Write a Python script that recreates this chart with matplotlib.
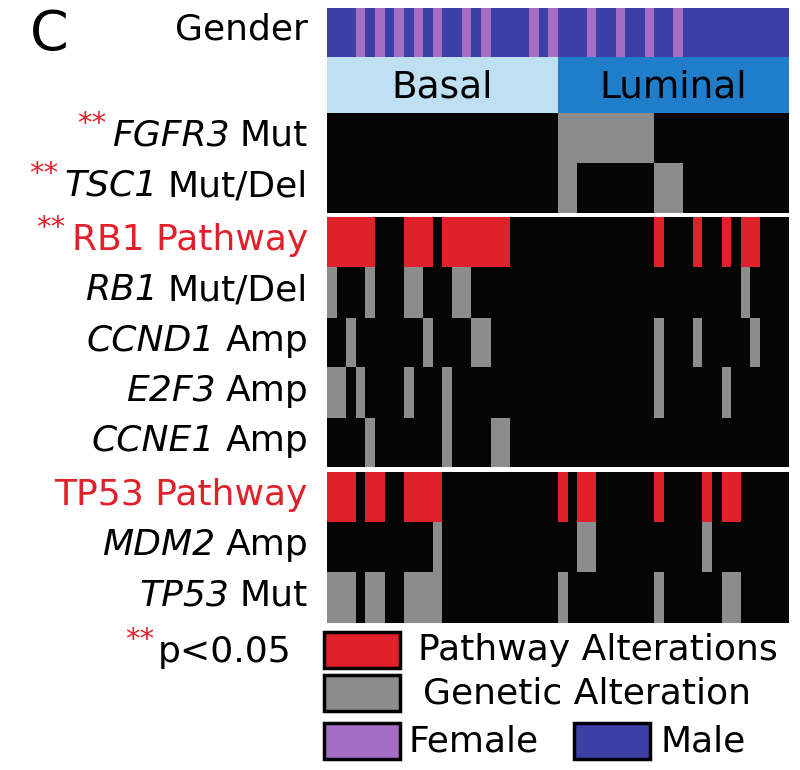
import numpy as np
import matplotlib
matplotlib.use("Agg")
import matplotlib.pyplot as plt
from matplotlib.colors import ListedColormap, BoundaryNorm
from matplotlib.patches import Rectangle

plt.rcParams['font.family'] = ['DejaVu Sans']

# ---- data (sample columns, 0-based) ----
n_samples = 48
n_basal = 24
subtypes = ['Basal', 'Luminal']
female_cols = [3, 5, 7, 9, 11, 14, 16, 21, 23, 27, 30, 33, 36]

fgfr3_mut = [24, 25, 26, 27, 28, 29, 30, 31, 32, 33]
tsc1_mut_del = [24, 25, 34, 35, 36]
rb1_pathway = [0, 1, 2, 3, 4, 8, 9, 10, 12, 13, 14, 15, 16, 17, 18, 34, 38, 41, 43, 44]
rb1_mut_del = [0, 4, 8, 9, 13, 14, 43]
ccnd1_amp = [2, 10, 15, 16, 34, 38, 44]
e2f3_amp = [0, 1, 3, 8, 12, 34, 41]
ccne1_amp = [4, 12, 17, 18]
tp53_pathway = [0, 1, 2, 4, 5, 8, 9, 10, 11, 24, 26, 27, 34, 39, 41, 42]
mdm2_amp = [11, 26, 27, 39]
tp53_mut = [0, 1, 2, 4, 5, 8, 9, 10, 11, 24, 34, 41, 42]

# (gene in italics, rest, pathway row?, p<0.05?, altered samples)
rows = [
    ('FGFR3', 'Mut', False, True, fgfr3_mut),
    ('TSC1', 'Mut/Del', False, True, tsc1_mut_del),
    ('RB1 Pathway', '', True, True, rb1_pathway),
    ('RB1', 'Mut/Del', False, False, rb1_mut_del),
    ('CCND1', 'Amp', False, False, ccnd1_amp),
    ('E2F3', 'Amp', False, False, e2f3_amp),
    ('CCNE1', 'Amp', False, False, ccne1_amp),
    ('TP53 Pathway', '', True, False, tp53_pathway),
    ('MDM2', 'Amp', False, False, mdm2_amp),
    ('TP53', 'Mut', False, False, tp53_mut),
]

# ---- layout (pixels from top) ----
W, H = 800, 770
gender_band = (8, 57)
subtype_band = (57, 113)
row_bands = [(113, 163), (163, 213), (217, 267), (267, 318), (318, 367),
             (367, 418), (418, 467), (472, 522), (522, 572), (572, 623)]

BLACK = '#050505'
GRAY = '#8c8c8c'
RED = '#e0202a'
FEMALE = '#a56dc4'
MALE = '#3b3fa6'
BASAL = '#bfdff2'
LUMINAL = '#1f7dc9'
cmap = ListedColormap([BLACK, GRAY, RED, FEMALE, MALE, BASAL, LUMINAL])
norm = BoundaryNorm(np.arange(-0.5, 7.5, 1), cmap.N)

fig = plt.figure(figsize=(W / 100, H / 100), dpi=100)
ax = fig.add_axes([327 / W, 1 - 623 / H, 462 / W, 615 / H])


def draw_band(codes, band):
    top, bottom = band
    ax.imshow(np.asarray(codes)[None, :], cmap=cmap, norm=norm,
              extent=(0, n_samples, bottom, top), aspect='auto',
              interpolation='nearest')


gender = np.full(n_samples, 4)
gender[female_cols] = 3
draw_band(gender, gender_band)

subtype = np.where(np.arange(n_samples) < n_basal, 5, 6)
draw_band(subtype, subtype_band)
sub_y = (subtype_band[0] + subtype_band[1]) / 2 + 3
ax.text(n_basal / 2, sub_y, subtypes[0], ha='center', va='center', fontsize=27)
ax.text((n_basal + n_samples) / 2, sub_y, subtypes[1], ha='center', va='center', fontsize=27)

label_x = 308
ax.annotate('Gender', xy=(label_x, 29), xycoords=('figure pixels', 'data'),
            ha='right', va='center', fontsize=26)

for (gene, rest, pathway, signif, cols), band in zip(rows, row_bands):
    codes = np.zeros(n_samples, dtype=int)
    codes[cols] = 2 if pathway else 1
    draw_band(codes, band)

    yc = (band[0] + band[1]) / 2 - 2
    if pathway:
        lab = ax.annotate(gene, xy=(label_x, yc), xycoords=('figure pixels', 'data'),
                          ha='right', va='center', fontsize=26, color=RED)
    else:
        tail = ax.annotate(rest, xy=(label_x, yc), xycoords=('figure pixels', 'data'),
                           ha='right', va='center', fontsize=26)
        lab = ax.annotate(gene, xy=(0, 0), xycoords=tail, xytext=(-10, 0),
                          textcoords='offset pixels', ha='right', va='bottom',
                          fontsize=26, style='italic')
    if signif:
        ax.annotate('**', xy=(0, 0), xycoords=lab, xytext=(-6, 21),
                    textcoords='offset pixels', ha='right', va='baseline',
                    fontsize=21, color=RED)

ax.set_xlim(0, n_samples)
ax.set_ylim(623, 8)
ax.axis('off')

# panel letter
fig.text(30 / W, 1 - 35 / H, 'C', ha='left', va='center', fontsize=40)

# p-value note
p_txt = fig.text(158 / W, 1 - 652 / H, 'p<0.05', ha='left', va='center', fontsize=26)
ax.annotate('**', xy=(0, 0), xycoords=p_txt, xytext=(-4, 21),
            textcoords='offset pixels', ha='right', va='baseline',
            fontsize=21, color=RED)

# legend
legend_items = [
    (RED, 'Pathway Alterations', 324, 632, 418),
    (GRAY, 'Genetic Alteration', 324, 675, 423),
    (FEMALE, 'Female', 324, 723, 408),
    (MALE, 'Male', 574, 723, 661),
]
for color, text, bx, by, tx in legend_items:
    bh = 36
    fig.add_artist(Rectangle((bx / W, 1 - (by + bh) / H), 76 / W, bh / H,
                             facecolor=color, edgecolor='black', linewidth=2.5,
                             transform=fig.transFigure))
    fig.text(tx / W, 1 - (by + bh / 2) / H, text, ha='left', va='center', fontsize=26)

fig.savefig('out.png', dpi=100, facecolor='white')
